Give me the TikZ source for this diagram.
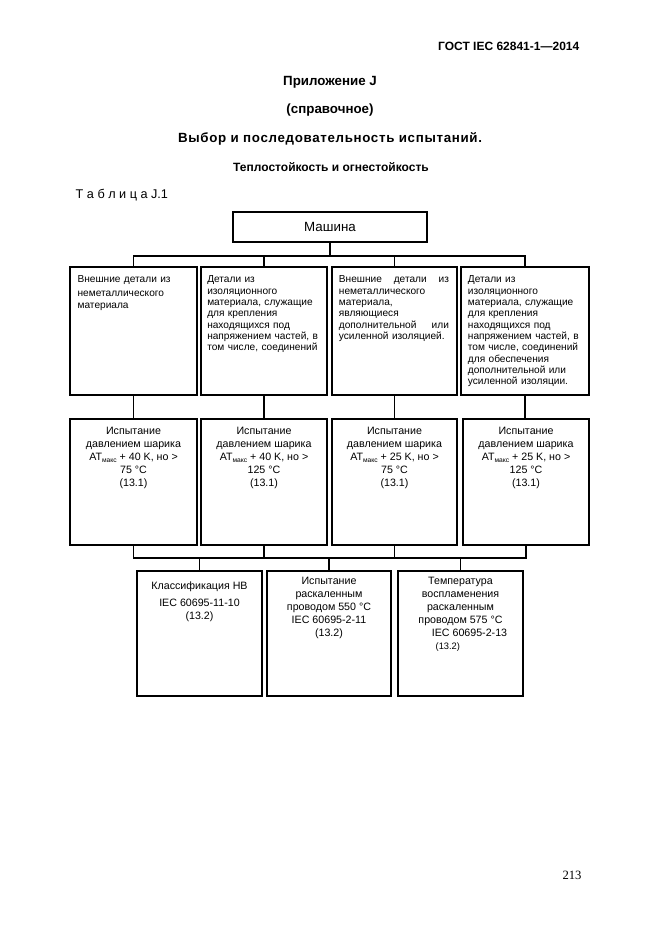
\documentclass[tikz,border=0pt]{standalone}
\usepackage{fontspec}
\setmainfont{Liberation Sans}
\newfontfamily\pagefont{Liberation Serif}
\newfontfamily\widefont[LetterSpace=5]{Liberation Sans}
\usetikzlibrary{positioning}

\newcommand{\maxsub}{\raisebox{-1.6pt}{\fontsize{5}{6}\selectfont макс}}

\tikzset{
  cellbox/.style={draw, line width=#1, inner sep=0pt, outer sep=0pt, anchor=north west},
  cellbox/.default=0.8pt,
  sz/.style 2 args={minimum width=#1*0.75pt, minimum height=#2*0.75pt},
  wire/.style={line width=0.8pt},
  head/.style={font=\bfseries\fontsize{10}{12}\selectfont},
  note/.style={inner sep=0pt, align=left, text width=92pt, font=\fontsize{7.6}{8.5}\selectfont},
  test/.style={inner sep=0pt, align=center, font=\fontsize{8}{9.75}\selectfont},
}

\begin{document}
\begin{tikzpicture}[x=0.75pt, y=-0.75pt]
  \useasboundingbox (0,0) rectangle (661,935);

  % page head
  \node[anchor=east, font=\bfseries\fontsize{9}{11}\selectfont] (gost) at (584,46) {ГОСТ IEC 62841-1—2014};
  \node[head] (annex) at (330,82) {Приложение J};
  \node[head] (kind) at (330,110) {(справочное)};
  \node[font=\widefont\bfseries\fontsize{10}{12}\selectfont] (title) at (330,139) {Выбор и последовательность испытаний.};
  \node[font=\bfseries\fontsize{9}{11}\selectfont] (subtitle) at (331,167) {Теплостойкость и огнестойкость};
  \node[anchor=west, font=\fontsize{9.5}{11}\selectfont] (tabname) at (71,195) {Т а б л и ц а J.1};

  % top
  \node[cellbox, sz={194}{30}, font=\fontsize{10}{12}\selectfont] (m) at (233,212) {Машина};

  % parts
  \node[cellbox, sz={127}{128}] (a1) at (70,267) {};
  \node[cellbox=2.2pt, sz={126}{128}] (a2) at (201,267) {};
  \node[cellbox=1.5pt, sz={125}{128}] (a3) at (332,267) {};
  \node[cellbox=2.2pt, sz={128}{128}] (a4) at (461,267) {};

  \node[note, below right=6.5pt and 5.5pt of a1.north west] (ta1)
    {Внешние детали из\\[2pt]неметаллического\\материала};
  \node[note, below right=6.5pt and 4.5pt of a2.north west] (ta2)
    {Детали из\\изоляционного\\материала, служащие\\для крепления\\находящихся под\\напряжением частей, в\\том числе, соединений};
  \node[note, text width=82.5pt, below right=6.5pt and 5pt of a3.north west] (ta3)
    {Внешние\hfill детали\hfill из\\неметаллического\\материала,\\являющиеся\\дополнительной\hfill или\\усиленной изоляцией.};
  \node[note, below right=6.5pt and 5pt of a4.north west] (ta4)
    {Детали из\\изоляционного\\материала, служащие\\для крепления\\находящихся под\\напряжением частей, в\\том числе, соединений\\для обеспечения\\дополнительной или\\усиленной изоляции.};

  % ball pressure
  \node[cellbox=2.2pt, sz={127}{126}] (b1) at (70,419) {};
  \node[cellbox=2.2pt, sz={126}{126}] (b2) at (201,419) {};
  \node[cellbox=2.2pt, sz={125}{126}] (b3) at (332,419) {};
  \node[cellbox=2.2pt, sz={126}{126}] (b4) at (463,419) {};

  \node[test, below=6pt of b1.north] (tb1)
    {Испытание\\давлением шарика\\AT\maxsub{} + 40 K, но >\\75 °C\\(13.1)};
  \node[test, below=6pt of b2.north] (tb2)
    {Испытание\\давлением шарика\\AT\maxsub{} + 40 K, но >\\125 °C\\(13.1)};
  \node[test, below=6pt of b3.north] (tb3)
    {Испытание\\давлением шарика\\AT\maxsub{} + 25 K, но >\\75 °C\\(13.1)};
  \node[test, below=6pt of b4.north] (tb4)
    {Испытание\\давлением шарика\\AT\maxsub{} + 25 K, но >\\125 °C\\(13.1)};

  % flame tests
  \node[cellbox=2.2pt, sz={125}{125}] (c1) at (137,571) {};
  \node[cellbox=2.2pt, sz={124}{125}] (c2) at (267,571) {};
  \node[cellbox=2.2pt, sz={125}{125}] (c3) at (398,571) {};

  \node[test, below=7.5pt of c1.north] (tc1)
    {Классификация НВ\\[3.5pt]IEC 60695-11-10\\(13.2)};
  \node[test, below=4.5pt of c2.north] (tc2)
    {Испытание\\раскаленным\\проводом 550 °C\\IEC 60695-2-11\\(13.2)};
  \node[test, below=4.5pt of c3.north] (tc3)
    {Температура\\воспламенения\\раскаленным\\проводом 575 °C\\\hspace*{13.5pt}IEC 60695-2-13\\{\fontsize{7}{9.75}\selectfont(13.2)}\hspace*{19pt}};

  % connectors
  \coordinate (bus1) at (330,256);
  \coordinate (bus2) at (330,558);
  \draw[wire] (m.south) -- (bus1);
  \foreach \n in {a1,a2,a3,a4}
    \draw[wire] (bus1) -| (\n.north);
  \foreach \i in {1,...,4}
    \draw[wire] (a\i.south) -- (a\i.south |- b\i.north);
  \foreach \i in {1,...,4}
    \draw[wire] (b\i.south) |- (bus2);
  \foreach \n in {c1,c2,c3}
    \draw[wire] (bus2) -| (\n.north);

  \node[font=\pagefont\fontsize{9.5}{11}\selectfont] (page) at (572,875) {213};
\end{tikzpicture}
\end{document}
